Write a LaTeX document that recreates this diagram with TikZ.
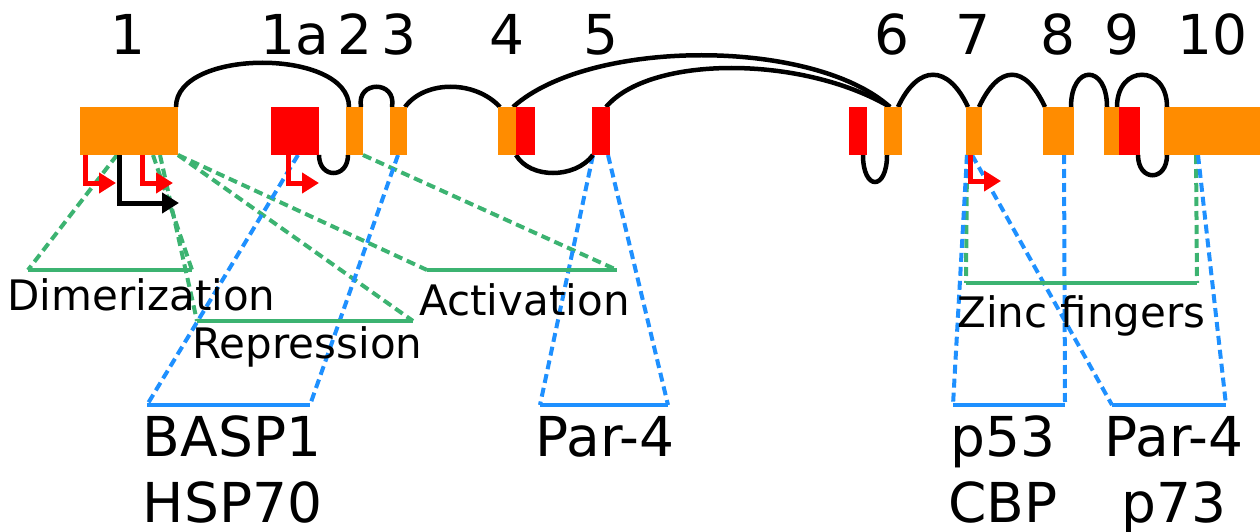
\documentclass[tikz,border=0pt]{standalone}
\usepackage{fontspec}
\setmainfont{DejaVu Sans}
\usetikzlibrary{arrows.meta,backgrounds}
\definecolor{exorange}{RGB}{255,140,0}
\definecolor{exred}{RGB}{255,0,0}
\definecolor{domgreen}{RGB}{60,179,113}
\definecolor{pblue}{RGB}{30,144,255}
\begin{document}
\begin{tikzpicture}[x=1pt,y=-1pt,
  exon/.style={inner sep=0pt,outer sep=0pt,minimum height=48pt,minimum width=#1,anchor=north west,draw=none},
  orx/.style={exon=#1,fill=exorange},
  rdx/.style={exon=#1,fill=exred},
  intron/.style={draw=black,line width=4.5pt},
  tss/.style={line width=5pt,-{Triangle[length=17pt,width=20pt]}},
  gdash/.style={draw=domgreen,line width=4pt,dash pattern=on 9pt off 5pt},
  bdash/.style={draw=pblue,line width=4pt,dash pattern=on 9pt off 5pt},
  gbar/.style={draw=domgreen,line width=4pt},
  bbar/.style={draw=pblue,line width=4pt},
  num/.style={font=\fontsize{55}{55}\selectfont,inner sep=0pt,anchor=base},
  lbl/.style={font=\fontsize{42}{42}\selectfont,inner sep=0pt,anchor=base},
  big/.style={font=\fontsize{55}{55}\selectfont,inner sep=0pt,anchor=base}]
\useasboundingbox (0,0) rectangle (1260,532);
% exons
\node[orx=98pt]  (e1)  at (80,107)  {};
\node[rdx=48pt]  (e1a) at (271,107) {};
\node[orx=17pt]  (e2)  at (346,107) {};
\node[orx=17pt]  (e3)  at (390,107) {};
\node[orx=18pt]  (e4o) at (498,107) {};
\node[rdx=19pt]  (e4r) at (516,107) {};
\node[rdx=18pt]  (e5)  at (592,107) {};
\node[rdx=18pt]  (e6r) at (849,107) {};
\node[orx=18pt]  (e6o) at (884,107) {};
\node[orx=16pt]  (e7)  at (966,107) {};
\node[orx=31pt]  (e8)  at (1043,107) {};
\node[orx=15pt]  (e9o) at (1104,107) {};
\node[rdx=21pt]  (e9r) at (1119,107) {};
\node[orx=96pt]  (e10) at (1164,107) {};
% exon numbers
\node[num] (n1)  at (128,55)  {1};
\node[num] (n1a) at (295,55)  {1a};
\node[num] (n2)  at (355,55)  {2};
\node[num] (n3)  at (399,55)  {3};
\node[num] (n4)  at (507,55)  {4};
\node[num] (n5)  at (601,55)  {5};
\node[num] (n6)  at (892,55)  {6};
\node[num] (n7)  at (973,55)  {7};
\node[num] (n8)  at (1058,55) {8};
\node[num] (n9)  at (1122,55) {9};
\node[num] (n10) at (1212,55) {10};
% bar end coordinates
\coordinate (dimL) at (28,270);  \coordinate (dimR) at (192,270);
\coordinate (repL) at (197,321); \coordinate (repR) at (413,321);
\coordinate (actL) at (427,270); \coordinate (actR) at (617,270);
\coordinate (zfL)  at (966,283); \coordinate (zfR)  at (1197,283);
\coordinate (basL) at (147,405); \coordinate (basR) at (310,405);
\coordinate (p4L)  at (540,405); \coordinate (p4R)  at (668,405);
\coordinate (p53L) at (953,405); \coordinate (p53R) at (1065,405);
\coordinate (p4bL) at (1112,405);\coordinate (p4bR) at (1226,405);
% TSS arrow tips
\coordinate (t1) at (116,183);
\coordinate (t2) at (173,183);
\coordinate (t3) at (179,203);
\coordinate (t4) at (319,183);
\coordinate (t5) at (1001,181);
% domain labels
\node[lbl] (ldim) at (141.5,310) {Dimerization};
\node[lbl] (lrep) at (307.5,358) {Repression};
\node[lbl] (lact) at (524.5,315) {Activation};
\node[lbl] (lzf)  at (1081.5,327) {Zinc fingers};
% partner labels
\node[big] (basp) at (232,456) {BASP1};
\node[big] (hsp)  at (232.5,522) {HSP70};
\node[big] (par1) at (605,456) {Par-4};
\node[big] (p53)  at (1003,456) {p53};
\node[big] (cbp)  at (1003,522) {CBP};
\node[big] (par2) at (1174,456) {Par-4};
\node[big] (p73)  at (1174,522) {p73};
\begin{scope}[on background layer]
% green domain lines
\draw[gdash] ([xshift=37pt]e1.south west) -- (dimL);
\draw[gdash] ([xshift=73pt]e1.south west) -- (dimR);
\draw[gdash] ([xshift=80pt]e1.south west) -- (repL);
\draw[gdash] (e1.south east) -- (repR);
\draw[gdash] (e1.south east) -- (actL);
\draw[gdash] (e2.south east) -- (actR);
\draw[gdash] ([xshift=1pt]e7.south west) -- (zfL);
\draw[gdash] ([xshift=32pt]e10.south west) -- (zfR);
% blue partner lines
\draw[bdash] ([xshift=27pt]e1a.south west) -- (basL);
\draw[bdash] ([xshift=8pt]e3.south west) -- (basR);
\draw[bdash] ([xshift=1pt]e5.south west) -- (p4L);
\draw[bdash] ([xshift=-2pt]e5.south east) -- (p4R);
\draw[bdash] ([xshift=1pt]e7.south west) -- (p53L);
\draw[bdash] ([xshift=21pt]e8.south west) -- (p53R);
\draw[bdash] ([xshift=6pt]e7.south west) -- (p4bL);
\draw[bdash] ([xshift=34pt]e10.south west) -- (p4bR);
% bars
\draw[gbar] (dimL) -- (dimR);
\draw[gbar] (repL) -- (repR);
\draw[gbar] (actL) -- (actR);
\draw[gbar] (zfL) -- (zfR);
\draw[bbar] (basL) -- (basR);
\draw[bbar] (p4L) -- (p4R);
\draw[bbar] (p53L) -- (p53R);
\draw[bbar] (p4bL) -- (p4bR);
% TSS arrows
\draw[tss,exred] ([xshift=5pt]e1.south west) |- (t1);
\draw[tss,exred] ([xshift=62pt]e1.south west) |- (t2);
\draw[tss,black] ([xshift=39pt]e1.south west) |- (t3);
\draw[tss,exred] ([xshift=17pt]e1a.south west) |- (t4);
\draw[tss,exred] ([xshift=4pt]e7.south west) |- (t5);
% introns
\draw[intron] ([xshift=-2pt]e1.north east) .. controls +(0,-59) and +(0,-59) .. ([xshift=3pt]e2.north west);
\draw[intron] ([xshift=-2pt]e2.north east) .. controls +(-5,-27) and +(5,-27) .. ([xshift=2pt]e3.north west);
\draw[intron] ([xshift=-2pt]e3.north east) .. controls +(20,-27) and +(-25,-27) .. ([xshift=2pt]e4o.north west);
\draw[intron] ([xshift=-3pt]e4r.north west) .. controls +(77,-69) and +(-77,-69) .. ([xshift=6pt]e6o.north west);
\draw[intron] ([xshift=-4pt]e5.north east) .. controls +(44,-52) and +(-88,-52) .. ([xshift=6pt]e6o.north west);
\draw[intron] (e4r.south west) .. controls +(14,24) and +(-18,24) .. ([xshift=1pt]e5.south west);
\draw[intron] (e1a.south east) .. controls +(0,24) and +(0,24) .. ([xshift=2pt]e2.south west);
\draw[intron] ([xshift=-4pt]e6r.south east) .. controls +(0,36) and +(0,36) .. ([xshift=3pt]e6o.south west);
\draw[intron] ([xshift=-4pt]e6o.north east) .. controls +(20,-43) and +(-20,-43) .. ([xshift=2pt]e7.north west);
\draw[intron] ([xshift=-3pt]e7.north east) .. controls +(20,-43) and +(-20,-43) .. ([xshift=2pt]e8.north west);
\draw[intron] ([xshift=-3pt]e8.north east) .. controls +(0,-43) and +(0,-43) .. ([xshift=3pt]e9o.north west);
\draw[intron] ([xshift=-2pt]e9o.north east) .. controls +(0,-43) and +(0,-43) .. ([xshift=3pt]e10.north west);
\draw[intron] ([xshift=-2pt]e9r.south east) .. controls +(0,27) and +(0,27) .. ([xshift=3pt]e10.south west);
\end{scope}
\end{tikzpicture}
\end{document}
